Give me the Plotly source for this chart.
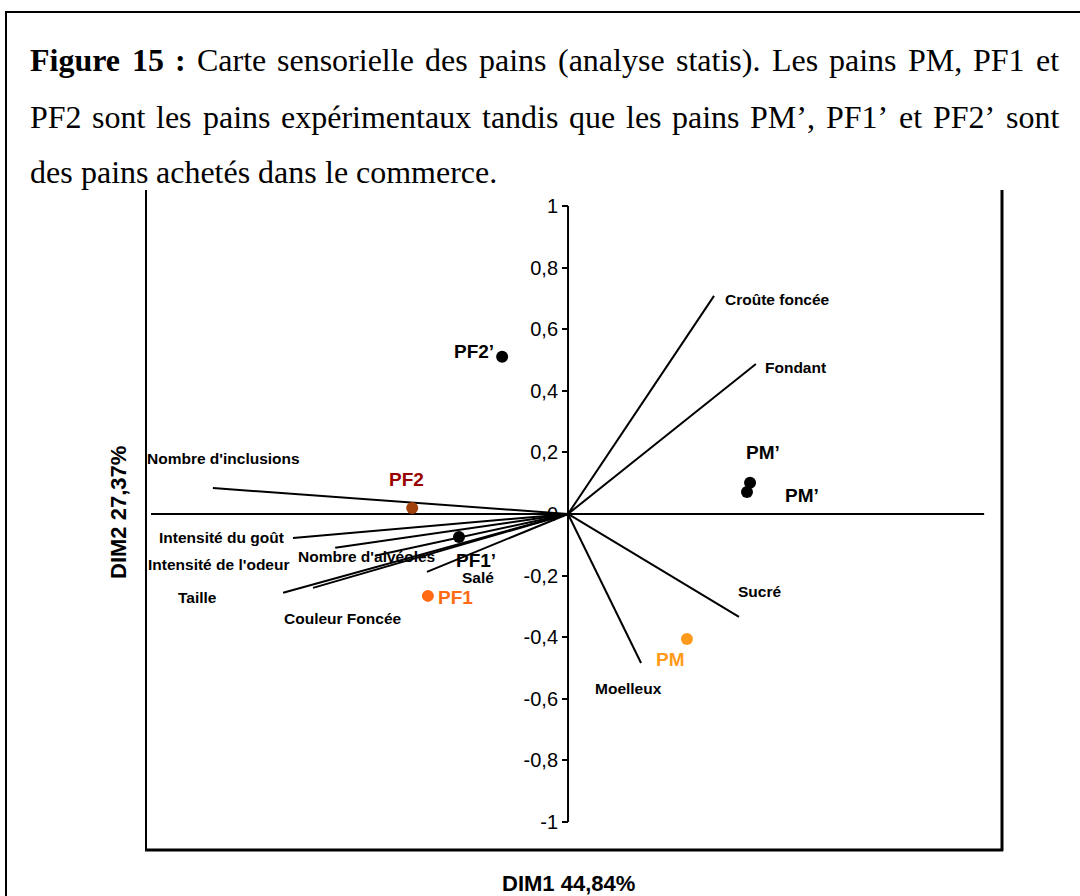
import plotly.graph_objects as go

# ---------------- data ----------------
attributes = ["Croûte foncée", "Fondant", "Sucré", "Moelleux", "Nombre d'inclusions",
              "Intensité du goût", "Intensité de l'odeur", "Nombre d'alvéoles",
              "Taille", "Couleur Foncée", "Salé"]
attr_dim1 = [0.474, 0.610, 0.555, 0.237, -1.153, -0.893, -0.756, -0.627, -0.925, -0.828, -0.458]
attr_dim2 = [0.708, 0.487, -0.334, -0.484, 0.084, -0.078, -0.110, -0.136, -0.256, -0.240, -0.188]

breads = ["PF2’", "PF2", "PF1’", "PF1", "PM", "PM’", "PM’"]
bread_dim1 = [-0.214, -0.506, -0.354, -0.455, 0.386, 0.591, 0.581]
bread_dim2 = [0.510, 0.019, -0.075, -0.266, -0.406, 0.101, 0.071]

y_ticks = [-1, -0.8, -0.6, -0.4, -0.2, 0, 0.2, 0.4, 0.6, 0.8, 1]
y_tick_labels = ["-1", "-0,8", "-0,6", "-0,4", "-0,2", "0", "0,2", "0,4", "0,6", "0,8", "1"]

x_title = "DIM1 44,84%"
y_title = "DIM2 27,37%"

caption_lines = [
    "Figure 15 : Carte sensorielle des pains (analyse statis). Les pains PM, PF1 et",
    "PF2 sont les pains expérimentaux tandis que les pains PM’, PF1’ et PF2’ sont",
    "des pains achetés dans le commerce.",
]
caption_bold_words = 3  # "Figure", "15", ":"

# ---------------- layout / styles ----------------
W, H = 1080, 896
L, R, T, B = 147, 1002, 197, 850
X0, X1 = -1.367, 1.409
Y0, Y1 = -1.091, 1.029

def px_x(p):
    return (p - L) / (R - L)

def px_y(p):
    return (B - p) / (B - T)

bread_dot_colors = ["#000000", "#a0400a", "#000000", "#ff6a13", "#ff9a1a", "#000000", "#000000"]
bread_text_colors = ["#000000", "#990000", "#000000", "#ff6a13", "#ff9a1a", "#000000", "#000000"]
bread_shift = [(-28, 5), (-6, 29), (17, -23), (28, -2), (-16, -20), (13, 30), (55, -3)]
attr_shift = [(63, -4), (40, -4), (21, 25), (-13, -25), (11, 30), (-71, 0), (-117, -17),
              (-8, -1), (-86, -5), (30, -31), (51, -6)]

SANS = "Liberation Sans, Arial, sans-serif"
SERIF = "Liberation Serif, Times New Roman, serif"

# Times New Roman advance widths (per 1000 em) for justified caption layout
TIMES_REG = {" ": 250, "(": 333, ")": 333, ".": 250, ",": 250, ":": 278, "’": 333,
             "1": 500, "2": 500, "5": 500, "C": 667, "F": 556, "L": 611, "M": 889, "P": 556,
             "a": 444, "c": 444, "d": 500, "e": 444, "é": 444, "g": 500, "h": 500, "i": 278,
             "l": 278, "m": 778, "n": 500, "o": 500, "p": 500, "q": 500, "r": 333, "s": 389,
             "t": 278, "u": 500, "x": 500, "y": 500}
TIMES_BOLD = {" ": 250, "F": 611, "i": 278, "g": 500, "u": 556, "r": 444, "e": 444,
              "1": 500, "5": 500, ":": 333}

CAP_SIZE = 32
CAP_LEFT, CAP_RIGHT = 28, 1057
CAP_Y = [60, 117, 172]

def word_width(w, bold):
    tbl = TIMES_BOLD if bold else TIMES_REG
    return sum(tbl.get(ch, 500) for ch in w) * CAP_SIZE / 1000.0

fig = go.Figure()

# vectors from origin
vx, vy = [], []
for a, b in zip(attr_dim1, attr_dim2):
    vx += [0, a, None]
    vy += [0, b, None]
fig.add_trace(go.Scatter(x=vx, y=vy, mode="lines", line=dict(color="black", width=2),
                         hoverinfo="skip", showlegend=False))

# horizontal axis line and vertical axis line
fig.add_trace(go.Scatter(x=[-1.354, 1.351], y=[0, 0], mode="lines",
                         line=dict(color="black", width=2), hoverinfo="skip", showlegend=False))
fig.add_trace(go.Scatter(x=[0, 0], y=[y_ticks[0], y_ticks[-1]], mode="lines",
                         line=dict(color="black", width=2), hoverinfo="skip", showlegend=False))

# bread points
fig.add_trace(go.Scatter(x=bread_dim1, y=bread_dim2, mode="markers",
                         marker=dict(color=bread_dot_colors, size=12, line=dict(width=0)),
                         text=breads, hoverinfo="text", showlegend=False))

annotations = []
for name, a, b, (dx, dy) in zip(attributes, attr_dim1, attr_dim2, attr_shift):
    annotations.append(dict(x=a, y=b, xref="x", yref="y", text=f"<b>{name}</b>", showarrow=False,
                            xshift=dx, yshift=dy, font=dict(family=SANS, size=15.5, color="black")))
for name, a, b, col, (dx, dy) in zip(breads, bread_dim1, bread_dim2, bread_text_colors, bread_shift):
    annotations.append(dict(x=a, y=b, xref="x", yref="y", text=f"<b>{name}</b>", showarrow=False,
                            xshift=dx, yshift=dy, font=dict(family=SANS, size=19, color=col)))

# axis titles
annotations.append(dict(x=px_x(568), y=px_y(883), xref="paper", yref="paper", text=f"<b>{x_title}</b>",
                        showarrow=False, xanchor="center", yanchor="middle",
                        font=dict(family=SANS, size=22, color="black")))
annotations.append(dict(x=px_x(118), y=px_y(513), xref="paper", yref="paper", text=f"<b>{y_title}</b>",
                        showarrow=False, xanchor="center", yanchor="middle", textangle=-90,
                        font=dict(family=SANS, size=22, color="black")))

# caption: justified word by word (last line left aligned)
word_counter = 0
for li, line in enumerate(caption_lines):
    words = line.split(" ")
    bolds = []
    for w in words:
        bolds.append(word_counter < caption_bold_words)
        word_counter += 1
    widths = [word_width(w, bd) for w, bd in zip(words, bolds)]
    space = 250 * CAP_SIZE / 1000.0
    if li < len(caption_lines) - 1:
        gap = (CAP_RIGHT - CAP_LEFT - sum(widths)) / (len(words) - 1)
    else:
        gap = space
    x = CAP_LEFT
    for w, bd, wd in zip(words, bolds, widths):
        txt = f"<b>{w}</b>" if bd else w
        annotations.append(dict(x=px_x(x), y=px_y(CAP_Y[li]), xref="paper", yref="paper", text=txt,
                                showarrow=False, xanchor="left", yanchor="middle",
                                font=dict(family=SERIF, size=CAP_SIZE, color="black")))
        x += wd + gap

shapes = [
    # page frame
    dict(type="rect", xref="paper", yref="paper", x0=px_x(6), x1=px_x(1095), y0=px_y(910), y1=px_y(12),
         line=dict(color="black", width=2)),
    # chart box (open at top)
    dict(type="line", xref="paper", yref="paper", x0=px_x(146), x1=px_x(146), y0=px_y(190), y1=px_y(851),
         line=dict(color="black", width=2)),
    dict(type="line", xref="paper", yref="paper", x0=px_x(1002), x1=px_x(1002), y0=px_y(190), y1=px_y(851),
         line=dict(color="black", width=3)),
    dict(type="line", xref="paper", yref="paper", x0=px_x(145), x1=px_x(1003), y0=px_y(850), y1=px_y(850),
         line=dict(color="black", width=3)),
]

ypos = (0 - X0) / (X1 - X0)

fig.update_layout(
    width=W, height=H,
    margin=dict(l=L, r=W - R, t=T, b=H - B, pad=0),
    paper_bgcolor="white", plot_bgcolor="white",
    xaxis=dict(range=[X0, X1], domain=[0, 1], showgrid=False, zeroline=False, showline=False,
               showticklabels=False, ticks=""),
    yaxis=dict(range=[Y0, Y1], domain=[0, 1], anchor="free", position=ypos, side="left",
               showgrid=False, zeroline=False, showline=False,
               tickmode="array", tickvals=y_ticks, ticktext=y_tick_labels,
               ticks="outside", ticklen=6, tickwidth=2, tickcolor="black",
               tickfont=dict(family=SANS, size=20, color="black")),
    annotations=annotations,
    shapes=shapes,
    showlegend=False,
)

fig.write_html("out.html",
               config={"displayModeBar": False},
               post_script="document.body.style.margin='0';document.body.style.padding='0';"
                           "document.body.style.overflow='hidden';")
